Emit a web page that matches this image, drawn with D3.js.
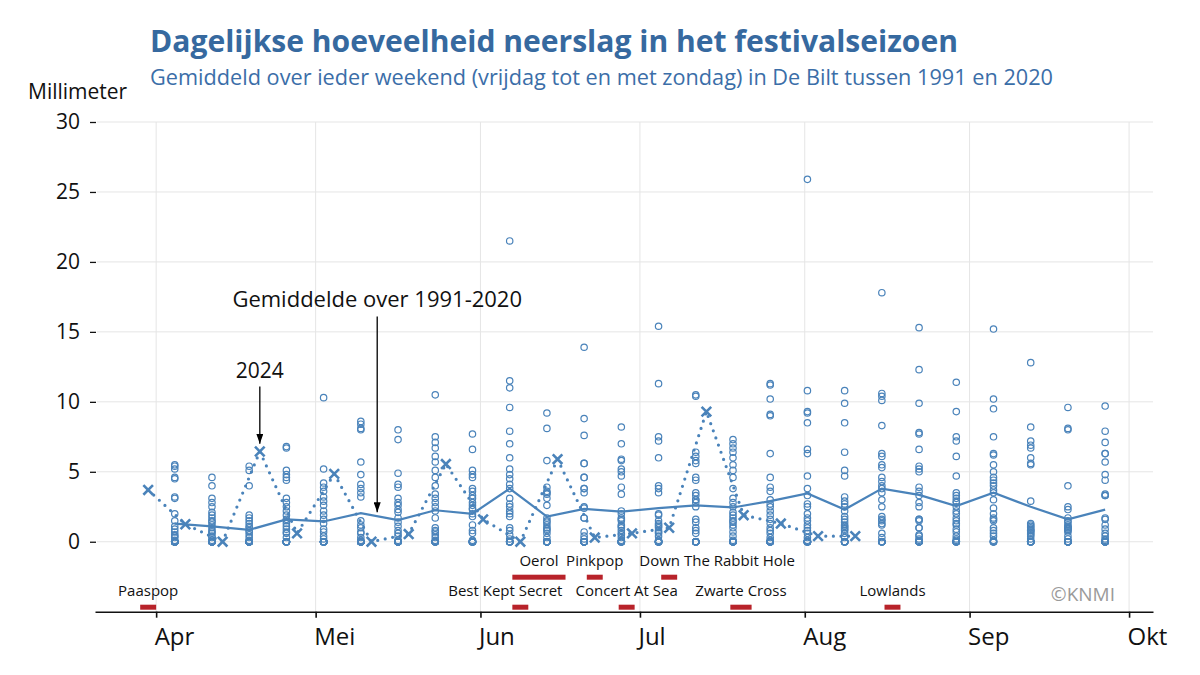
<!DOCTYPE html>
<html><head><meta charset="utf-8">
<script src="https://cdn.jsdelivr.net/npm/d3@7"></script>
<style>
html,body{margin:0;padding:0;background:#fff;}
svg{display:block;font-family:'Open Sans','Noto Sans',sans-serif;}
</style>
</head><body>
<svg id="chart" width="1200" height="675"></svg>
<script>
// ---------------- DATA ----------------
const monthLabels = ["Jan","Feb","Mrt","Apr","Mei","Jun","Jul","Aug","Sep","Okt","Nov","Dec"];
const yTickValues = [0, 5, 10, 15, 20, 25, 30];

// Friday of each climatological weekend (1991-2020)
const weekendDates = ["2024-04-05","2024-04-12","2024-04-19","2024-04-26","2024-05-03","2024-05-10",
  "2024-05-17","2024-05-24","2024-05-31","2024-06-07","2024-06-14","2024-06-21","2024-06-28",
  "2024-07-05","2024-07-12","2024-07-19","2024-07-26","2024-08-02","2024-08-09","2024-08-16",
  "2024-08-23","2024-08-30","2024-09-06","2024-09-13","2024-09-20","2024-09-27"];

// weekend-mean daily precipitation per year 1991-2020 (mm), one list per weekend
const climatology = [
  [5.5,5.4,5.2,4.6,4.5,3.2,3.1,2.0,1.5,1.1,0.9,0.7,0.5,0.4,0.3,0.1,0,0,0,0,0,0,0,0,0,0,0,0,0,0],
  [4.6,4.0,3.1,2.8,2.5,2.1,1.9,1.7,1.5,1.4,1.2,1.0,0.8,0.7,0.6,0.4,0.3,0.1,0,0,0,0,0,0,0,0,0,0,0,0],
  [5.4,5.1,4.0,1.9,1.7,1.5,1.3,1.1,1.0,0.8,0.7,0.5,0.3,0.1,0,0,0,0,0,0,0,0,0,0,0,0,0,0,0,0],
  [6.8,6.7,5.1,4.8,4.6,4.4,3.1,2.8,2.5,2.2,1.9,1.6,1.5,1.3,1.1,0.9,0.7,0.6,0.3,0,0,0,0,0,0,0,0,0,0,0],
  [10.3,5.2,4.2,3.9,3.6,3.2,2.9,2.6,2.2,1.9,1.6,1.3,0.9,0.7,0.4,0.2,0,0,0,0,0,0,0,0,0,0,0,0,0,0],
  [8.6,8.4,8.1,8.0,5.7,4.8,4.1,3.8,3.5,3.2,1.5,1.2,1.0,0.7,0.6,0.3,0.1,0,0,0,0,0,0,0,0,0,0,0,0,0],
  [8.0,7.3,4.9,4.1,3.9,3.1,2.8,2.6,2.3,2.1,1.7,1.4,1.1,0.8,0.6,0.4,0.1,0,0,0,0,0,0,0,0,0,0,0,0,0],
  [10.5,7.5,7.1,6.7,6.1,5.7,5.1,4.6,4.0,3.4,3.1,2.8,2.5,2.2,1.7,1.0,0.8,0.7,0.5,0.3,0.1,0,0,0,0,0,0,0,0,0],
  [7.7,6.6,5.1,4.8,4.6,3.8,3.6,3.3,3.1,2.8,2.6,2.4,2.3,2.0,1.8,1.2,0.8,0.6,0.1,0,0,0,0,0,0,0,0,0,0,0],
  [21.5,11.5,11.0,9.6,7.9,7.0,6.0,5.2,4.8,4.5,4.1,3.8,3.1,2.7,2.5,2.2,2.0,1.8,1.0,0.8,0.5,0.2,0,0,0,0,0,0,0,0],
  [9.2,8.1,5.8,3.9,3.6,3.5,3.4,3.1,2.6,1.7,1.5,1.4,1.2,1.0,0.9,0.8,0.6,0.3,0,0,0,0,0,0,0,0,0,0,0,0],
  [13.9,8.8,7.6,5.6,5.6,4.6,4.6,3.8,3.8,3.5,2.5,2.4,1.7,1.7,0.7,0.4,0.2,0,0,0,0,0,0,0,0,0,0,0,0,0],
  [8.2,7.0,5.9,5.8,5.2,5.0,4.7,3.9,3.4,2.2,2.0,1.7,1.6,1.5,1.2,1.1,1.0,0.8,0.6,0.5,0.3,0.1,0,0,0,0,0,0,0,0],
  [15.4,11.3,7.5,7.2,6.0,4.0,3.8,3.5,2.0,1.9,1.5,1.3,1.2,1.1,1.0,0.8,0.7,0.6,0.4,0.1,0,0,0,0,0,0,0,0,0,0],
  [10.5,10.4,6.4,6.1,5.8,5.6,4.6,4.4,3.5,3.3,3.0,3.0,2.8,2.5,1.6,1.4,1.0,0.8,0.6,0,0,0,0,0,0,0,0,0,0,0],
  [7.3,7.0,6.7,6.4,6.0,5.5,5.1,4.6,3.8,3.1,2.8,2.5,2.1,1.9,1.7,1.5,1.4,1.2,1.0,0.7,0.4,0.1,0,0,0,0,0,0,0,0],
  [11.3,11.2,10.2,9.1,9.0,6.3,4.6,3.9,3.6,3.0,2.7,2.5,2.2,1.9,1.6,1.3,1.0,0.8,0.6,0.3,0.1,0,0,0,0,0,0,0,0,0],
  [25.9,10.8,9.3,9.2,8.5,6.6,6.3,4.7,3.8,3.3,2.7,2.5,2.0,1.7,1.5,1.2,1.0,0.8,0.6,0.3,0.1,0,0,0,0,0,0,0,0,0],
  [10.8,9.9,8.5,6.4,5.1,4.7,3.2,2.9,2.7,2.5,2.2,1.8,1.6,1.4,1.2,1.1,1.0,0.9,0.8,0.6,0.3,0,0,0,0,0,0,0,0,0],
  [17.8,10.6,10.4,10.1,8.3,6.3,6.1,5.5,5.3,4.6,4.3,4.0,3.8,3.5,3.0,2.5,1.8,1.6,1.5,1.3,1.2,0.6,0.3,0,0,0,0,0,0,0],
  [15.3,12.3,9.9,7.8,7.7,6.6,5.4,5.2,5.0,3.9,3.6,3.3,2.8,2.5,1.6,1.6,1.5,1.0,1.0,0.5,0.4,0.2,0.1,0,0,0,0,0,0,0],
  [11.4,9.3,7.5,7.2,6.1,4.7,3.5,3.3,3.1,2.9,2.8,2.5,2.2,2.0,1.7,1.5,1.3,1.2,0.9,0.7,0.4,0.2,0.1,0,0,0,0,0,0,0],
  [15.2,10.2,9.5,7.5,6.3,6.2,5.5,5.0,4.6,4.4,4.2,4.0,3.7,3.5,3.0,2.4,2.0,1.7,1.6,1.5,1.0,0.8,0.6,0.4,0.1,0,0,0,0,0],
  [12.8,8.2,7.2,6.9,6.7,6.0,5.6,5.5,2.9,1.3,1.2,1.1,1.0,0.9,0.8,0.8,0.7,0.6,0.5,0.4,0.2,0,0,0,0,0,0,0,0,0],
  [9.6,8.1,8.0,4.0,2.5,2.3,1.7,1.5,1.4,1.2,1.1,1.0,1.0,0.9,0.9,0.8,0.7,0.4,0.2,0,0,0,0,0,0,0,0,0,0,0],
  [9.7,7.9,7.1,6.3,6.3,5.7,4.8,4.4,3.4,3.3,3.3,1.7,1.6,1.2,0.9,0.6,0.4,0.2,0.1,0,0,0,0,0,0,0,0,0,0,0]
];

// 1991-2020 mean per weekend (mm)
const meanValues = [1.3,1.1,0.85,1.6,1.45,2.05,1.55,2.25,2.0,3.8,1.8,2.35,2.15,2.4,2.6,2.45,
  2.9,3.45,2.3,3.8,3.35,2.55,3.5,2.5,1.6,2.3];

// 2024 weekends (Saturday) and values (mm)
const dates2024 = ["2024-03-30","2024-04-06","2024-04-13","2024-04-20","2024-04-27","2024-05-04",
  "2024-05-11","2024-05-18","2024-05-25","2024-06-01","2024-06-08","2024-06-15","2024-06-22",
  "2024-06-29","2024-07-06","2024-07-13","2024-07-20","2024-07-27","2024-08-03","2024-08-10"];
const values2024 = [3.7,1.25,0.0,6.45,0.6,4.85,0.0,0.55,5.55,1.6,0.0,5.9,0.3,0.6,1.0,9.3,1.9,1.3,0.4,0.4];

// festivals 2024
const festivalNames = ["Paaspop","Best Kept Secret","Oerol","Pinkpop","Concert At Sea",
  "Down The Rabbit Hole","Zwarte Cross","Lowlands"];
const festivalStart = ["2024-03-29","2024-06-07","2024-06-07","2024-06-21","2024-06-27","2024-07-05","2024-07-18","2024-08-16"];
const festivalEnd   = ["2024-03-31","2024-06-09","2024-06-16","2024-06-23","2024-06-29","2024-07-07","2024-07-21","2024-08-18"];
const festivalRow   = [0,0,1,1,0,1,0,0];

// ---------------- LAYOUT / STYLE ----------------
const W = 1200, H = 675;
const FONT = "'Open Sans','Noto Sans',sans-serif";
const BLUE = "#4a83ba";
const TITLE_BLUE = "#36699f";
const RED = "#b8232a";
const GRID = "#e5e5e5";
const labelNudge = {"Best Kept Secret": -15, "Down The Rabbit Hole": 48};

const parse = d3.utcParse("%Y-%m-%d");
const svg = d3.select("#chart");
svg.append("rect").attr("width", W).attr("height", H).attr("fill", "#fff");

const x = d3.scaleUtc()
  .domain([new Date(Date.UTC(2024,2,20,12)), new Date(Date.UTC(2024,9,5,12))])
  .range([95, 1153]);
const y = d3.scaleLinear().domain([-5, 30]).range([611.7, 122]);

const colX = d => x(d3.utcHour.offset(parse(d), -12));
const satX = d => x(d3.utcHour.offset(parse(d), 12));

// marker
const defs = svg.append("defs");
defs.append("marker").attr("id","arrow").attr("viewBox","0 0 10 7")
  .attr("refX",10).attr("refY",3.5).attr("markerWidth",10).attr("markerHeight",7)
  .attr("markerUnits","userSpaceOnUse").attr("orient","auto")
  .append("path").attr("d","M0,0L10,3.5L0,7z").attr("fill","#000");

// ---------- titles ----------
function fit(sel, target) {
  const w = sel.node().getComputedTextLength();
  if (Math.abs(w - target) > 2) sel.attr("textLength", target).attr("lengthAdjust", "spacingAndGlyphs");
}
const title = svg.append("text").attr("x",150).attr("y",52)
  .attr("font-family",FONT).attr("font-weight",700).attr("font-size",31)
  .attr("fill",TITLE_BLUE).text("Dagelijkse hoeveelheid neerslag in het festivalseizoen");
fit(title, 808);
const sub = svg.append("text").attr("x",150).attr("y",85)
  .attr("font-family",FONT).attr("font-size",22)
  .attr("fill","#3b6ea8").text("Gemiddeld over ieder weekend (vrijdag tot en met zondag) in De Bilt tussen 1991 en 2020");
fit(sub, 903);
svg.append("text").attr("x",28).attr("y",99).attr("font-family",FONT).attr("font-size",21)
  .attr("fill","#111").text("Millimeter");

// ---------- grid ----------
const monthTicks = x.ticks(d3.utcMonth.every(1));
const grid = svg.append("g");
grid.selectAll(".hg").data(yTickValues).join("line")
  .attr("x1",97).attr("x2",1153).attr("y1",d=>y(d)).attr("y2",d=>y(d))
  .attr("stroke",GRID).attr("stroke-width",1);
grid.selectAll(".vg").data(monthTicks).join("line")
  .attr("x1",d=>x(d)).attr("x2",d=>x(d)).attr("y1",y(30)).attr("y2",y(-5))
  .attr("stroke",GRID).attr("stroke-width",1);

// ---------- y axis ----------
const yAxis = d3.axisLeft(y).tickValues(yTickValues).tickSize(6).tickPadding(10);
const ya = svg.append("g").attr("transform","translate(96,0)").call(yAxis);
ya.select(".domain").remove();
ya.selectAll(".tick line").attr("stroke","#111").attr("stroke-width",1.3);
ya.selectAll(".tick text").attr("font-family",FONT).attr("font-size",21).attr("fill","#111");

// ---------- x axis ----------
const xAxis = d3.axisBottom(x).tickValues(monthTicks).tickSize(6).tickSizeOuter(0)
  .tickFormat(d => monthLabels[d.getUTCMonth()]);
const xa = svg.append("g").attr("transform",`translate(0,${y(-5)})`).call(xAxis);
xa.select(".domain").attr("stroke","#111").attr("stroke-width",1.6);
xa.selectAll(".tick line").attr("stroke","#111").attr("stroke-width",1.6);
xa.selectAll(".tick text").attr("font-family",FONT).attr("font-size",24).attr("fill","#111")
  .attr("text-anchor","start").attr("dy",null).attr("y",33).attr("dx",-2);

// ---------- festivals ----------
const fest = festivalNames.map((n,i)=>({name:n, s:parse(festivalStart[i]),
  e:d3.utcDay.offset(parse(festivalEnd[i]),1), row:festivalRow[i]}));
const rowBarY = r => r === 0 ? y(-5) - 7 : y(-5) - 37;
const fg = svg.append("g");
fg.selectAll("rect").data(fest).join("rect")
  .attr("x",d=>x(d.s)).attr("width",d=>x(d.e)-x(d.s))
  .attr("y",d=>rowBarY(d.row)).attr("height",5).attr("fill",RED);
fg.selectAll("text").data(fest).join("text")
  .attr("x",d=>(x(d.s)+x(d.e))/2 + (labelNudge[d.name]||0))
  .attr("y",d=>rowBarY(d.row)-9)
  .attr("text-anchor","middle").attr("font-family",FONT).attr("font-size",15).attr("fill","#111")
  .text(d=>d.name);

svg.append("text").attr("x",1115).attr("y",601).attr("text-anchor","end")
  .attr("font-family",FONT).attr("font-size",19).attr("fill","#9a9a9a").text("©KNMI");

// ---------- mean line ----------
svg.append("path")
  .attr("d", d3.line().x((d,i)=>colX(weekendDates[i])).y(d=>y(d))(meanValues))
  .attr("fill","none").attr("stroke",BLUE).attr("stroke-width",2.2);

// ---------- climatology points ----------
const pts = [];
climatology.forEach((vals,i)=>vals.forEach(v=>pts.push({d:weekendDates[i], v})));
svg.append("g").selectAll("circle").data(pts).join("circle")
  .attr("cx",d=>colX(d.d)).attr("cy",d=>y(d.v)).attr("r",3.2)
  .attr("fill","none").attr("stroke",BLUE).attr("stroke-width",1.2);

// ---------- 2024 ----------
svg.append("path")
  .attr("d", d3.line().x((d,i)=>satX(dates2024[i])).y(d=>y(d))(values2024))
  .attr("fill","none").attr("stroke",BLUE).attr("stroke-width",3.2)
  .attr("stroke-linecap","round").attr("stroke-dasharray","0 7.6");
svg.append("g").selectAll("path").data(values2024).join("path")
  .attr("transform",(d,i)=>`translate(${satX(dates2024[i])},${y(d)})`)
  .attr("d","M-4.8,-4.8L4.8,4.8M-4.8,4.8L4.8,-4.8")
  .attr("stroke",BLUE).attr("stroke-width",2.6).attr("fill","none");

// ---------- annotations ----------
const annotations = [
  {label:"Gemiddelde over 1991-2020", date:"2024-05-12T14:00", textAt:16.8, from:16.1, to:2.1, size:22},
  {label:"2024", date:"2024-04-20T12:00", textAt:11.7, from:11.1, to:7.0, size:21}
];
const pt = d3.utcParse("%Y-%m-%dT%H:%M");
annotations.forEach(a=>{
  const ax = x(pt(a.date));
  svg.append("text").attr("x",ax).attr("y",y(a.textAt)).attr("text-anchor","middle")
    .attr("font-family",FONT).attr("font-size",a.size).attr("fill","#111").text(a.label);
  svg.append("line").attr("x1",ax).attr("x2",ax).attr("y1",y(a.from)).attr("y2",y(a.to))
    .attr("stroke","#111").attr("stroke-width",1.4).attr("marker-end","url(#arrow)");
});
</script>
</body></html>
